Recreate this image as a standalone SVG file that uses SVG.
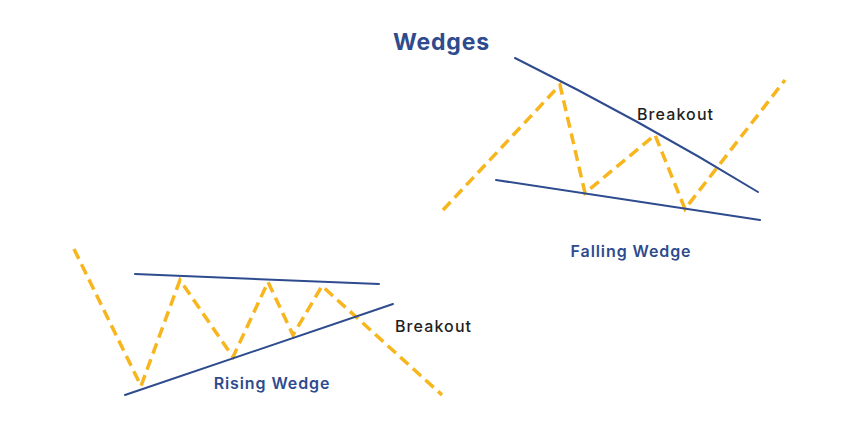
<svg xmlns="http://www.w3.org/2000/svg" width="853" height="435" viewBox="0 0 853 435">
<style>
.wl{stroke:#2e4b8e;stroke-width:2;fill:none;stroke-linecap:round}
.zz{stroke:#f7b51e;stroke-width:3.5;fill:none;stroke-dasharray:11 6;stroke-linejoin:miter}
.t{font-family:Inter,"Open Sans",sans-serif}
.lab{font-size:16px;fill:#1f1f1f;font-weight:500;letter-spacing:1.1px}
.name{font-size:16px;fill:#2e4b8e;font-weight:600;letter-spacing:0.9px}
</style>
<rect width="853" height="435" fill="#ffffff"/>
<text class="t" x="393" y="50" font-size="23" font-weight="700" fill="#2e4b8e" letter-spacing="0.8">Wedges</text>
<g id="connectors">
<path class="zz" d="M443,210 L560,85 L585,193 L655,135 L685,209 L785,80"/>
<path class="zz" d="M74,249 L141,386 L180,280 L233,357 L268,282 L293,335 L322,286 L442,395"/>
</g>
<g id="falling-wedge">
<path class="wl" d="M515,58 Q640,120 758,192"/>
<line class="wl" x1="496" y1="180" x2="760" y2="220"/>
<text class="t lab" x="637" y="120">Breakout</text>
<text class="t name" x="631" y="257" text-anchor="middle">Falling Wedge</text>
</g>
<g id="rising-wedge">
<line class="wl" x1="135" y1="274" x2="379" y2="284"/>
<line class="wl" x1="125" y1="395" x2="393" y2="304"/>
<text class="t lab" x="395" y="332">Breakout</text>
<text class="t name" x="272" y="389" text-anchor="middle">Rising Wedge</text>
</g>
</svg>
